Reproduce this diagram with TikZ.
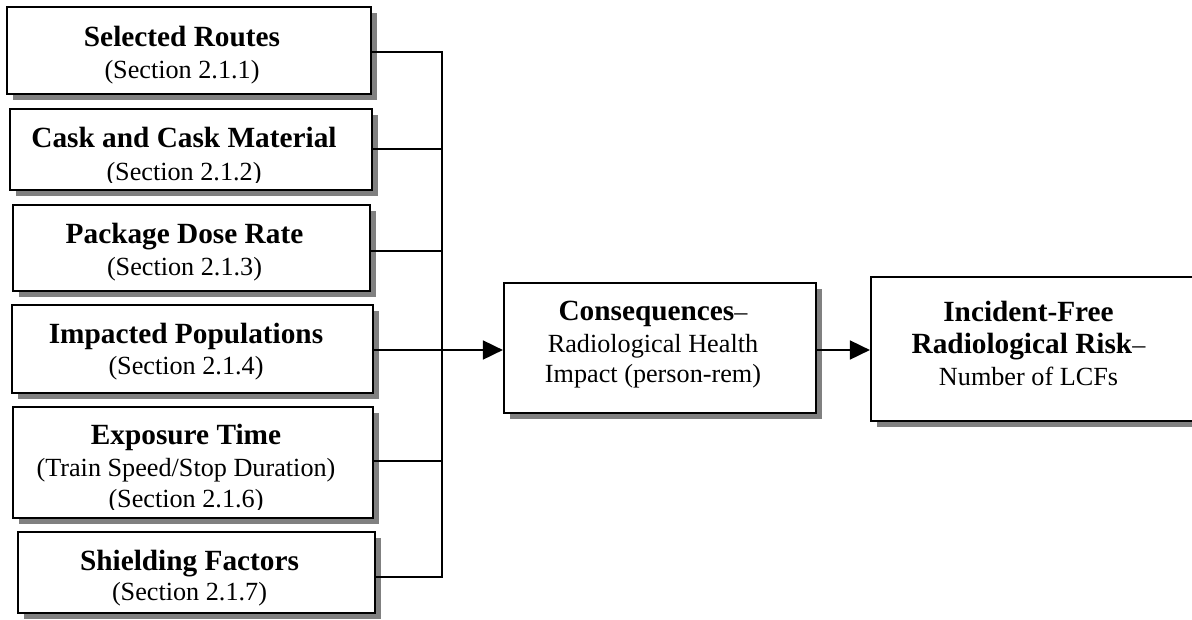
\documentclass[tikz,border=0pt]{standalone}
\usepackage{fontspec}
\setmainfont{Liberation Serif}
\usetikzlibrary{arrows.meta,shadows}
\definecolor{shadowgray}{HTML}{808080}
\newcommand\bigbf[1]{{\fontsize{29.3}{32}\selectfont\bfseries #1}}
\tikzset{
 box/.style={draw=black, fill=white, line width=2.2pt, inner sep=0pt,
   drop shadow={shadow xshift=5.5pt, shadow yshift=-5.5pt, fill=shadowgray, opacity=1}},
 conn/.style={draw=black, line width=1.8pt},
 tb/.style={anchor=base, inner sep=0pt, font=\fontsize{29.3}{32}\selectfont\bfseries},
 tr/.style={anchor=base, inner sep=0pt, font=\fontsize{26.2}{30}\selectfont},
 arr/.style={conn, -{Triangle[length=20pt,width=19pt]}},
}
\begin{document}
\begin{tikzpicture}[x=1pt,y=-1pt]
\useasboundingbox (0,0) rectangle (1192,619);
\clip (0,0) rectangle (1192,619);
% left boxes
\node[box, minimum width=364pt, minimum height=87pt] (b1) at (189,50.5) {};
\node[box, minimum width=362pt, minimum height=81pt] (b2) at (191,149.5) {};
\node[box, minimum width=357pt, minimum height=86pt] (b3) at (191.5,248) {};
\node[box, minimum width=361pt, minimum height=88pt] (b4) at (192.5,349) {};
\node[box, minimum width=360pt, minimum height=111pt] (b5) at (193,462.5) {};
\node[box, minimum width=357pt, minimum height=81pt] (b6) at (196.5,572.5) {};
% right boxes
\node[box, minimum width=312pt, minimum height=130pt] (cons) at (660,348) {};
\node[box, minimum width=379pt, minimum height=144pt] (inc) at (1060.5,349) {};
% texts
\node[tb] (t1a) at (182,46) {Selected Routes};
\node[tr] (t1b) at (182,78) {(Section 2.1.1)};
\begin{scope}
\clip (10,109) rectangle (372,182);
\node[tb] (t2a) at (184,147) {Cask and Cask Material};
\node[tr] (t2b) at (184,180) {(Section 2.1.2)};
\end{scope}
\node[tb] (t3a) at (184.5,243) {Package Dose Rate};
\node[tr] (t3b) at (184.5,275) {(Section 2.1.3)};
\node[tb] (t4a) at (186,343) {Impacted Populations};
\node[tr] (t4b) at (186,374) {(Section 2.1.4)};
\begin{scope}
\clip (13,407) rectangle (373,509);
\node[tb] (t5a) at (186,444) {Exposure Time};
\node[tr] (t5b) at (186,476) {(Train Speed/Stop Duration)};
\node[tr] (t5c) at (186,507) {(Section 2.1.6)};
\end{scope}
\node[tb] (t6a) at (189.5,570) {Shielding Factors};
\node[tr] (t6b) at (189.5,600) {(Section 2.1.7)};
\node[tr] (c1) at (653,320) {\bigbf{Consequences}–};
\node[tr] (c2) at (653,352) {Radiological Health};
\node[tr] (c3) at (653,382) {Impact (person-rem)};
\node[tb] (i1) at (1028.5,321) {Incident-Free};
\node[tr] (i2) at (1028.5,353) {\bigbf{Radiological Risk}–};
\node[tr] (i3) at (1028.5,385) {Number of LCFs};
% connectors
\coordinate (j1) at (442,52);
\coordinate (j2) at (442,149);
\coordinate (j3) at (442,251);
\coordinate (jA) at (442,350);
\coordinate (j5) at (442,461);
\coordinate (j6) at (442,577);
\draw[conn] (b1.east |- j1) -- (j1) -- (j6) -- (b6.east |- j6);
\draw[conn] (b2.east |- j2) -- (j2);
\draw[conn] (b3.east |- j3) -- (j3);
\draw[conn] (b5.east |- j5) -- (j5);
\draw[arr] (b4.east |- jA) -- (cons.west |- jA);
\coordinate (k) at (840,350);
\draw[arr] (cons.east |- k) -- (inc.west |- k);
\end{tikzpicture}
\end{document}
